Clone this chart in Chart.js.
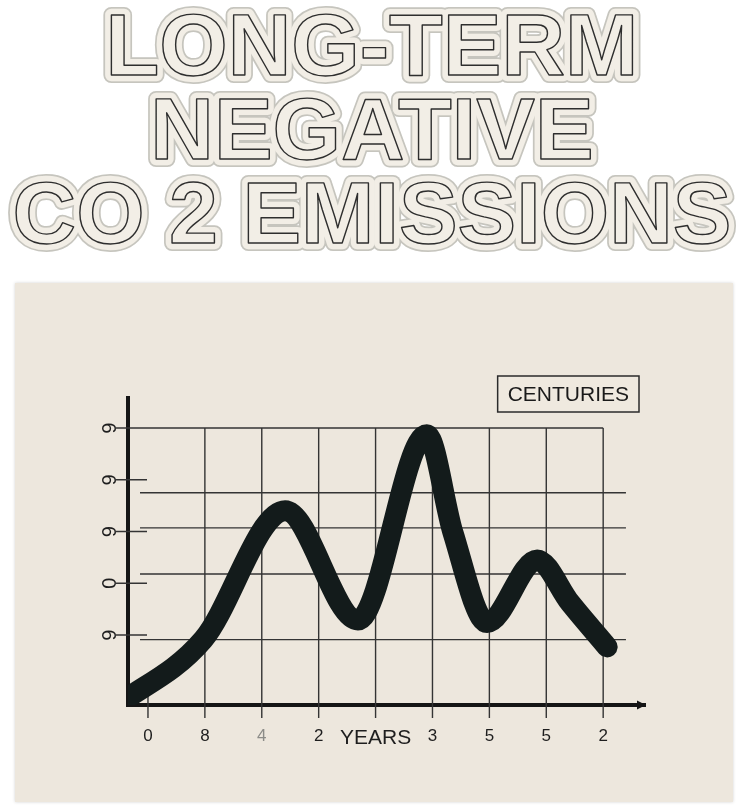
<!DOCTYPE html>
<html>
<head>
<meta charset="utf-8">
<script src="https://cdn.jsdelivr.net/npm/chart.js@4.4.1/dist/chart.umd.min.js"></script>
<style>
  html, body { margin: 0; padding: 0; background: #fff; }
</style>
</head>
<body>
<canvas id="chart" width="741" height="808"></canvas>
<script>
const titleLines = ["LONG-TERM", "NEGATIVE", "CO 2 EMISSIONS"];
const seriesLabel = "CENTURIES";
const xLabels = ["0", "8", "4", "2", "YEARS", "3", "5", "5", "2"];
// y labels bottom to top, they are drawn sideways
const yLabels = ["6", "0", "6", "6", "6"];
const yTickValues = [1, 2, 3, 4, 5];
const gridYValues = [5, 3.75, 3.07, 2.18, 0.91];
const curveX = [-0.6, 0.97, 2.41, 3.69, 4.90, 5.36, 5.96, 6.84, 7.42, 8.07];
const curveY = [-0.4, 0.91, 3.40, 1.29, 4.87, 2.98, 1.24, 2.45, 1.62, 0.77];

const FONT = "'Liberation Sans', Arial, sans-serif";

const paper = {
  id: "paper",
  beforeDraw(chart) {
    const ctx = chart.ctx;
    ctx.save();
    ctx.shadowColor = "rgba(0,0,0,0.18)";
    ctx.shadowBlur = 3;
    ctx.fillStyle = "#ede7dd";
    ctx.fillRect(15, 283, 718, 519);
    ctx.restore();

    // outlined title
    ctx.save();
    ctx.font = "bold 88px " + FONT;
    ctx.textAlign = "center";
    ctx.textBaseline = "alphabetic";
    ctx.lineJoin = "round";
    titleLines.forEach((line, i) => {
      const y = 75 + i * 84;
      ctx.strokeStyle = "#c6c5be";
      ctx.lineWidth = 16;
      ctx.strokeText(line, 372, y);
      ctx.strokeStyle = "#f2eee6";
      ctx.lineWidth = 12.5;
      ctx.strokeText(line, 372, y);
      ctx.fillStyle = "#f2eee6";
      ctx.fillText(line, 372, y);
      ctx.strokeStyle = "#2e2e2e";
      ctx.lineWidth = 1.4;
      ctx.strokeText(line, 372, y);
    });
    ctx.restore();
  },
  beforeDatasetsDraw(chart) {
    const { ctx, scales: { x, y } } = chart;
    ctx.save();
    ctx.strokeStyle = "#343434";
    ctx.lineWidth = 1.4;
    ctx.beginPath();
    const top = y.getPixelForValue(gridYValues[0]);
    xLabels.forEach((_, i) => {
      const px = x.getPixelForValue(i);
      ctx.moveTo(px, i === 0 ? y.bottom - 15 : top);
      ctx.lineTo(px, y.bottom + 13);
    });
    gridYValues.forEach((v, i) => {
      const py = y.getPixelForValue(v);
      ctx.moveTo(i === 0 ? x.left : x.getPixelForValue(-0.14), py);
      ctx.lineTo(x.getPixelForValue(i === 0 ? 8 : 8.4), py);
    });
    yTickValues.forEach(v => {
      const py = y.getPixelForValue(v);
      ctx.moveTo(x.left - 13, py);
      ctx.lineTo(x.left + 19, py);
    });
    ctx.stroke();
    ctx.restore();
  },
  afterDraw(chart) {
    const { ctx, chartArea } = chart;
    ctx.save();
    // arrow head on x axis
    ctx.fillStyle = "#151515";
    ctx.beginPath();
    ctx.moveTo(chartArea.right + 1, chartArea.bottom);
    ctx.lineTo(chartArea.right - 8, chartArea.bottom - 4.5);
    ctx.lineTo(chartArea.right - 8, chartArea.bottom + 4.5);
    ctx.fill();

    // boxed series label
    const label = chart.data.datasets[0].label;
    ctx.font = "21px " + FONT;
    const w = ctx.measureText(label).width + 20;
    const bx = chartArea.right - 6 - w;
    const by = chartArea.top - 22;
    ctx.fillStyle = "#efe9df";
    ctx.fillRect(bx, by, w, 36);
    ctx.strokeStyle = "#2b2b2b";
    ctx.lineWidth = 1.5;
    ctx.strokeRect(bx, by, w, 36);
    ctx.fillStyle = "#1a1a1a";
    ctx.textAlign = "center";
    ctx.textBaseline = "middle";
    ctx.fillText(label, bx + w / 2, by + 19);
    ctx.restore();
  }
};

new Chart(document.getElementById("chart"), {
  type: "line",
  data: {
    datasets: [{
      label: seriesLabel,
      data: curveX.map((x, i) => ({ x, y: curveY[i] })),
      borderColor: "#131b1b",
      borderWidth: 21,
      borderCapStyle: "round",
      borderJoinStyle: "round",
      cubicInterpolationMode: "monotone",
      pointRadius: 0,
      fill: false,
      clip: 0
    }]
  },
  options: {
    responsive: false,
    animation: false,
    layout: { padding: { left: 88, top: 398, right: 96, bottom: 53 } },
    plugins: {
      legend: { display: false },
      tooltip: { enabled: false }
    },
    scales: {
      x: {
        type: "linear",
        min: -0.351,
        max: 8.735,
        afterBuildTicks: s => { s.ticks = xLabels.map((_, i) => ({ value: i })); },
        afterFit: s => { s.height = 50; },
        grid: { display: false, drawTicks: false },
        border: { display: true, color: "#151515", width: 4 },
        ticks: {
          padding: 21,
          autoSkip: false,
          maxRotation: 0,
          callback: v => xLabels[v],
          color: c => c.index === 2 ? "#8c8c88" : "#1e1e1e",
          font: c => c.index === 4 ? { size: 21, family: FONT } : { size: 17, family: FONT }
        }
      },
      y: {
        type: "linear",
        min: -0.353,
        max: 5.58,
        afterBuildTicks: s => { s.ticks = yTickValues.map(v => ({ value: v })); },
        afterFit: s => { s.width = 40; },
        grid: { display: false, drawTicks: false },
        border: { display: true, color: "#151515", width: 4 },
        ticks: {
          padding: 15,
          minRotation: -90,
          maxRotation: -90,
          crossAlign: "center",
          callback: (v, i) => yLabels[i],
          color: "#1e1e1e",
          font: { size: 20, family: FONT }
        }
      }
    }
  },
  plugins: [paper]
});
</script>
</body>
</html>
